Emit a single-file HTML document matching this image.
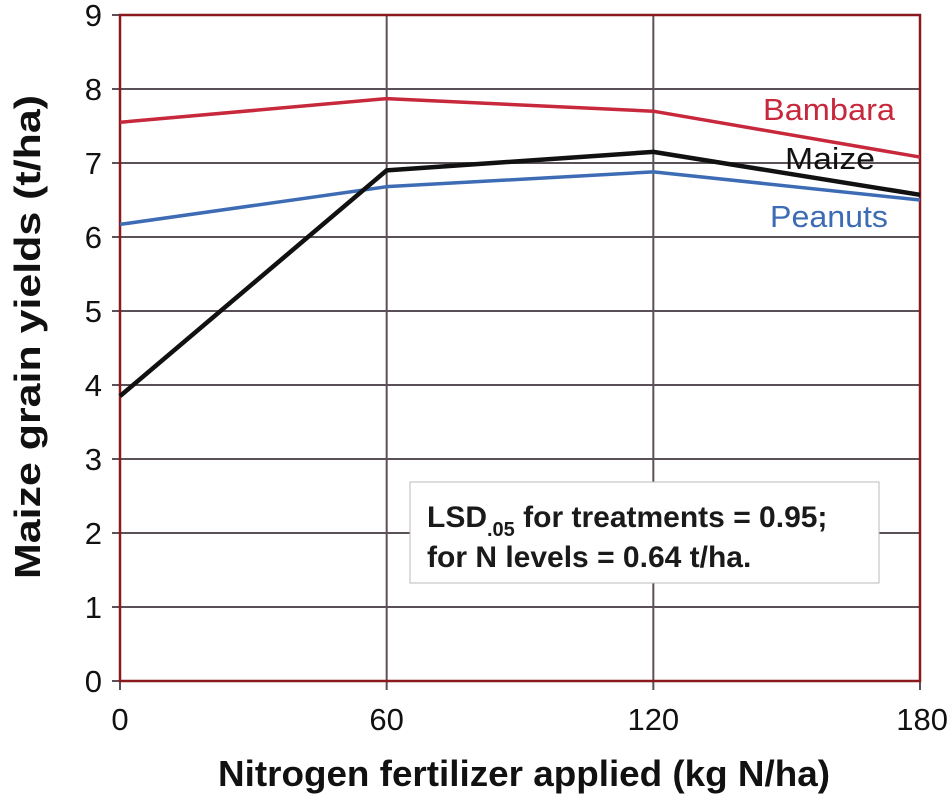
<!DOCTYPE html>
<html><head><meta charset="utf-8"><style>
body{margin:0;background:#fff}
svg{display:block;font-family:"Liberation Sans",Arial,sans-serif}
</style></head><body>
<svg id="chart" width="950" height="794" viewBox="0 0 950 794">
<g id="grid"></g>
<g id="series"></g>
<g id="labels"></g>
<text transform="translate(40,337) rotate(-90)" text-anchor="middle" font-size="36" font-weight="bold" fill="#111" textLength="484" lengthAdjust="spacingAndGlyphs">Maize grain yields (t/ha)</text>
<text x="524" y="786" text-anchor="middle" font-size="36" font-weight="bold" fill="#111" textLength="612" lengthAdjust="spacingAndGlyphs">Nitrogen fertilizer applied (kg N/ha)</text>
<g>
<rect x="410" y="482" width="469" height="101" fill="#fff" stroke="#bbb" stroke-width="1"/>
<text x="427" y="527" font-size="30" font-weight="bold" fill="#1a1a1a">LSD<tspan font-size="20" dy="9">.05</tspan><tspan dy="-9"> for treatments = 0.95;</tspan></text>
<text x="427" y="567" font-size="30" font-weight="bold" fill="#1a1a1a">for N levels = 0.64 t/ha.</text>
</g>
</svg>
<script>
const categories=[0,60,120,180];
const yTicks=[0,1,2,3,4,5,6,7,8,9];
const bambara=[7.55,7.87,7.7,7.08];
const maize=[3.85,6.9,7.15,6.57];
const peanuts=[6.17,6.68,6.88,6.5];
const seriesNames=["Bambara","Maize","Peanuts"];
const NS="http://www.w3.org/2000/svg";
const L=120,R=920,T=15,B=681;
const xs=v=>L+(v-0)/(180-0)*(R-L);
const ys=v=>B-(v/9)*(B-T);
function mk(tag,attrs,parent){const e=document.createElementNS(NS,tag);for(const k in attrs)e.setAttribute(k,attrs[k]);parent.appendChild(e);return e;}
const grid=document.getElementById('grid'),ser=document.getElementById('series'),lab=document.getElementById('labels');
yTicks.forEach(t=>{
 const ln=mk('line',{x1:112,x2:R,y1:ys(t),y2:ys(t),stroke:'#5a5058','stroke-width':2},grid);
 
 
 const tx=mk('text',{x:102,y:ys(t)+11,'text-anchor':'end','font-size':31,fill:'#111'},lab);
 tx.textContent=t;
 
 
});
categories.forEach(c=>{
 const ln=mk('line',{x1:xs(c),x2:xs(c),y1:T,y2:690,stroke:'#5a5058','stroke-width':2},grid);
 
 
 const tx=mk('text',{x:xs(c),y:730,'text-anchor':c===180?'end':'middle','font-size':31,fill:'#111'},lab);
 if(c===180)tx.setAttribute('x',xs(c)+28);
 tx.textContent=c;
 
 
});
const fr=mk('rect',{x:L,y:T,width:R-L,height:B-T,fill:'none',stroke:'#8b1a1f','stroke-width':2.5},grid);


const defs=[[bambara,'#c8283c',3.5,'Bambara',763,120,132],[peanuts,'#3d6cb5',3.5,'Peanuts',770,227,118],[maize,'#111',4.5,'Maize',785,169,90]];
defs.forEach(([vals,col,w,name,lx,ly,tl])=>{
 const p=mk('polyline',{points:vals.map((v,i)=>xs(categories[i])+','+ys(v)).join(' '),fill:'none',stroke:col,'stroke-width':w,'stroke-linejoin':'round'},ser);
 
 
 const t=mk('text',{x:lx,y:ly,'font-size':31,fill:col,textLength:tl,lengthAdjust:'spacingAndGlyphs'},ser);
 t.textContent=name;
 
 
});
</script>
</body></html>
